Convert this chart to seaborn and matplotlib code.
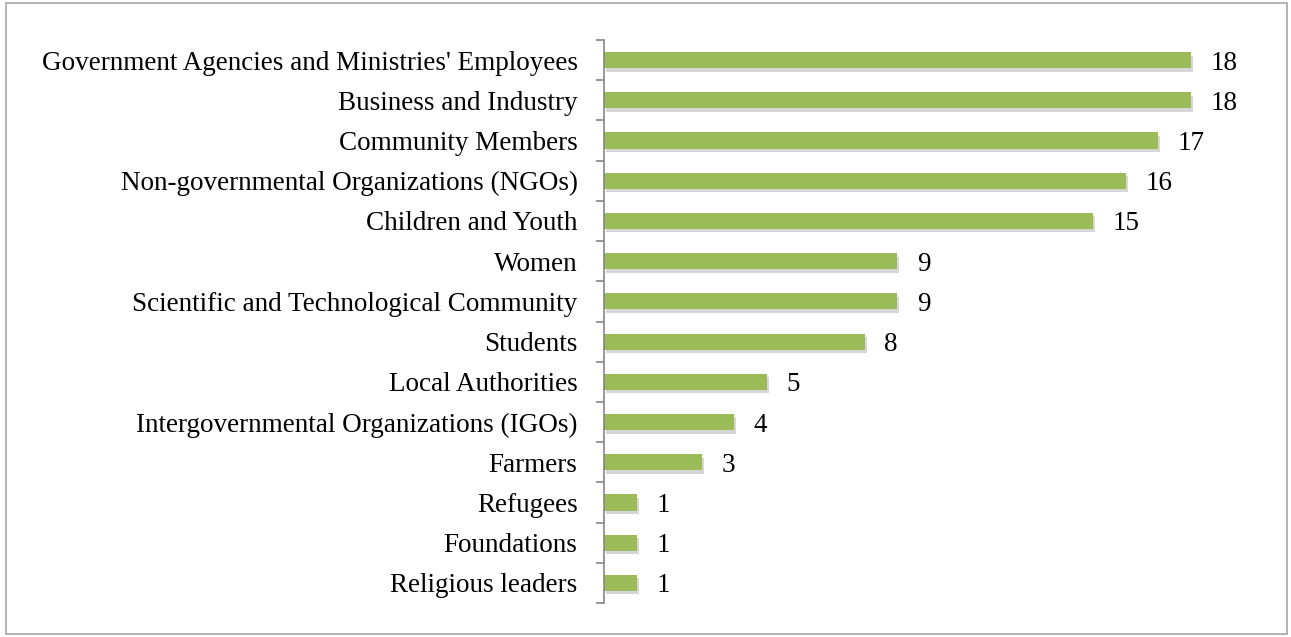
import matplotlib
matplotlib.use("Agg")
import matplotlib.pyplot as plt
import matplotlib.patheffects as pe
from matplotlib.patches import Rectangle
import seaborn as sns
import pandas as pd
import numpy as np

categories = [
    "Government Agencies and Ministries' Employees",
    "Business and Industry",
    "Community Members",
    "Non-governmental Organizations (NGOs)",
    "Children and Youth",
    "Women",
    "Scientific and Technological Community",
    "Students",
    "Local Authorities",
    "Intergovernmental Organizations (IGOs)",
    "Farmers",
    "Refugees",
    "Foundations",
    "Religious leaders",
]
values = [18, 18, 17, 16, 15, 9, 9, 8, 5, 4, 3, 1, 1, 1]

df = pd.DataFrame({"category": categories, "value": values})

sns.set_theme(style="white")
plt.rcParams["font.family"] = ["Liberation Serif", "DejaVu Serif"]

FS = 19.5

fig = plt.figure(figsize=(12.91, 6.37), dpi=100)
ax = fig.add_axes([604/1291, 1 - 603/637, (1256 - 604)/1291, (603 - 40)/637])

sns.barplot(data=df, y="category", x="value", orient="h", color="#9BBB59",
            saturation=1, width=0.4, ax=ax, edgecolor="none")

for p in ax.patches:
    p.set_path_effects([pe.SimplePatchShadow(offset=(1.5, -2.5), shadow_rgbFace="#8c8c8c", alpha=0.35), pe.Normal()])

ax.set_xlim(0, 20)
ax.set_ylim(len(categories) - 0.5, -0.5)
ax.set_xlabel("")
ax.set_ylabel("")
ax.set_xticks([])

for i, v in enumerate(values):
    ax.text(v + 0.6, i, str(v), va="center_baseline", ha="left", fontsize=FS, color="black")

ax.tick_params(axis="y", which="major", left=False, length=0, pad=19, labelsize=FS, labelcolor="black")
ax.set_yticks(np.arange(-0.5, len(categories), 1), minor=True)
ax.tick_params(axis="y", which="minor", left=True, length=6, width=1.2, color="#868686", direction="out")

for s in ["top", "right", "bottom"]:
    ax.spines[s].set_visible(False)
ax.spines["left"].set_color("#868686")
ax.spines["left"].set_linewidth(1.2)

fig.patches.append(Rectangle((6/1291, 3/637), (1287 - 6)/1291, (634 - 3)/637,
                             transform=fig.transFigure, fill=False,
                             edgecolor="#a6a6a6", linewidth=1.2))

fig.savefig("out.png", dpi=100, facecolor="white")
